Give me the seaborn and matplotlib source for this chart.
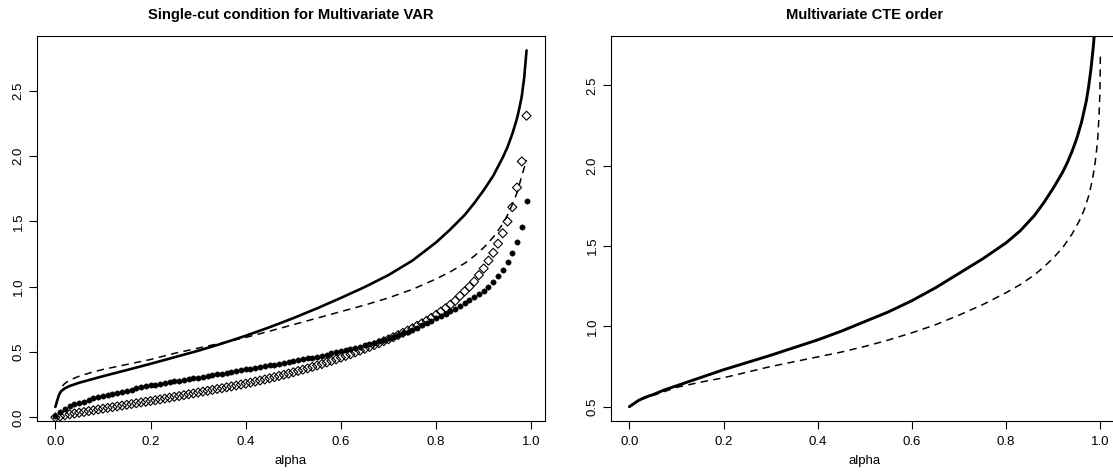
import numpy as np
import pandas as pd
import matplotlib
matplotlib.use("Agg")
import matplotlib.pyplot as plt
import seaborn as sns

# ---------------- data ----------------
alpha_pts = [round(i * 0.01, 2) for i in range(100)]

var_dots = [0.01, 0.04, 0.065, 0.085, 0.10, 0.11, 0.12, 0.13, 0.145, 0.155,
            0.163, 0.172, 0.18, 0.189, 0.197, 0.205, 0.213, 0.221, 0.229, 0.237,
            0.245, 0.251, 0.257, 0.263, 0.269, 0.275, 0.281, 0.287, 0.293, 0.299,
            0.305, 0.311, 0.317, 0.323, 0.329, 0.335, 0.341, 0.347, 0.354, 0.360,
            0.367, 0.373, 0.379, 0.385, 0.391, 0.398, 0.404, 0.411, 0.417, 0.424,
            0.430, 0.437, 0.444, 0.451, 0.458, 0.466, 0.473, 0.481, 0.489, 0.497,
            0.505, 0.514, 0.523, 0.532, 0.541, 0.551, 0.561, 0.571, 0.582, 0.593,
            0.605, 0.617, 0.630, 0.643, 0.657, 0.672, 0.688, 0.704, 0.721, 0.739,
            0.758, 0.775, 0.793, 0.812, 0.833, 0.855, 0.875, 0.897, 0.92, 0.944,
            0.97, 1.0, 1.04, 1.08, 1.13, 1.19, 1.26, 1.34, 1.46, 1.66]

var_diamonds = [0.0, 0.008, 0.016, 0.023, 0.029, 0.035, 0.041, 0.048, 0.054, 0.060,
                0.066, 0.072, 0.078, 0.084, 0.090, 0.096, 0.102, 0.108, 0.114, 0.119,
                0.125, 0.131, 0.137, 0.144, 0.150, 0.157, 0.163, 0.170, 0.177, 0.183,
                0.190, 0.197, 0.203, 0.210, 0.217, 0.223, 0.230, 0.237, 0.244, 0.251,
                0.258, 0.266, 0.274, 0.282, 0.290, 0.299, 0.308, 0.317, 0.326, 0.335,
                0.345, 0.355, 0.365, 0.375, 0.386, 0.397, 0.408, 0.420, 0.432, 0.444,
                0.457, 0.470, 0.483, 0.497, 0.511, 0.525, 0.539, 0.553, 0.568, 0.583,
                0.598, 0.614, 0.630, 0.647, 0.664, 0.682, 0.701, 0.72, 0.74, 0.762,
                0.785, 0.81, 0.836, 0.863, 0.892, 0.93, 0.965, 1.0, 1.04, 1.09,
                1.14, 1.20, 1.26, 1.33, 1.41, 1.50, 1.61, 1.76, 1.96, 2.31]

var_solid_x = [0.0, 0.004, 0.008, 0.012, 0.02, 0.03, 0.05, 0.075, 0.1, 0.15, 0.2, 0.25,
               0.3, 0.35, 0.4, 0.45, 0.5, 0.55, 0.6, 0.65, 0.7, 0.75, 0.8, 0.83,
               0.86, 0.88, 0.9, 0.92, 0.94, 0.95, 0.96, 0.97, 0.975, 0.98, 0.985, 0.99]
var_solid_y = [0.08, 0.13, 0.175, 0.2, 0.222, 0.24, 0.265, 0.29, 0.315, 0.362, 0.41, 0.46,
               0.51, 0.565, 0.625, 0.69, 0.76, 0.835, 0.915, 0.998, 1.09, 1.2, 1.34, 1.44,
               1.55, 1.64, 1.74, 1.85, 1.99, 2.07, 2.17, 2.29, 2.37, 2.46, 2.6, 2.81]

var_dash_x = [0.015, 0.02, 0.03, 0.05, 0.075, 0.1, 0.15, 0.2, 0.25, 0.3, 0.35, 0.4,
              0.45, 0.5, 0.55, 0.6, 0.65, 0.7, 0.75, 0.8, 0.83, 0.86, 0.88, 0.9,
              0.92, 0.94, 0.95, 0.96, 0.97, 0.98, 0.99]
var_dash_y = [0.24, 0.26, 0.285, 0.315, 0.343, 0.367, 0.405, 0.443, 0.49, 0.53, 0.57, 0.612,
              0.66, 0.71, 0.76, 0.81, 0.86, 0.915, 0.98, 1.06, 1.115, 1.18, 1.235, 1.3,
              1.38, 1.48, 1.55, 1.63, 1.72, 1.85, 1.97]

cte_solid_x = [0.0, 0.01, 0.02, 0.035, 0.05, 0.075, 0.1, 0.15, 0.2, 0.25, 0.3, 0.35,
               0.4, 0.45, 0.5, 0.55, 0.6, 0.65, 0.7, 0.75, 0.8, 0.83, 0.86, 0.88,
               0.9, 0.92, 0.93, 0.94, 0.95, 0.96, 0.97, 0.975, 0.98, 0.985, 0.99]
cte_solid_y = [0.5, 0.52, 0.54, 0.56, 0.575, 0.605, 0.63, 0.68, 0.73, 0.775, 0.82, 0.868,
               0.916, 0.97, 1.03, 1.09, 1.16, 1.24, 1.33, 1.42, 1.52, 1.595, 1.69, 1.77,
               1.86, 1.96, 2.02, 2.09, 2.17, 2.27, 2.40, 2.49, 2.6, 2.74, 2.92]

cte_dash_x = [0.0, 0.02, 0.05, 0.1, 0.15, 0.2, 0.25, 0.3, 0.35, 0.4, 0.45, 0.5,
              0.55, 0.6, 0.65, 0.7, 0.75, 0.8, 0.83, 0.86, 0.88, 0.9, 0.92, 0.94,
              0.955, 0.965, 0.975, 0.983, 0.989, 0.994, 0.997, 0.999, 1.0]
cte_dash_y = [0.5, 0.54, 0.57, 0.62, 0.652, 0.68, 0.715, 0.75, 0.78, 0.81, 0.84, 0.875,
              0.915, 0.96, 1.01, 1.07, 1.135, 1.21, 1.26, 1.32, 1.37, 1.425, 1.49, 1.575,
              1.655, 1.72, 1.81, 1.91, 2.02, 2.15, 2.3, 2.45, 2.68]

x_ticks = [0.0, 0.2, 0.4, 0.6, 0.8, 1.0]
left_yticks = [0.0, 0.5, 1.0, 1.5, 2.0, 2.5]
right_yticks = [0.5, 1.0, 1.5, 2.0, 2.5]

title_left = "Single-cut condition for Multivariate VAR"
title_right = "Multivariate CTE order"
xlab = "alpha"

# ---------------- style ----------------
sns.set_theme(style="white")
plt.rcParams["font.family"] = ["Liberation Sans", "DejaVu Sans"]
plt.rcParams["axes.edgecolor"] = "black"
plt.rcParams["axes.linewidth"] = 0.8

W, H = 1113, 472
fig = plt.figure(figsize=(W / 100, H / 100), dpi=100)
fig.patch.set_facecolor("white")

ax_bottom_px, ax_top_px = 421.0, 35.7
ax1 = fig.add_axes([36.5 / W, (H - ax_bottom_px) / H, 508.9 / W, (ax_bottom_px - ax_top_px) / H])
ax2 = fig.add_axes([610.5 / W, (H - ax_bottom_px) / H, 508.7 / W, (ax_bottom_px - ax_top_px) / H])

SOLID_LW = 1.9
DASH_LW = 1.1
DASH = (0, (4.8, 3.5))

# left panel
sns.lineplot(x=var_solid_x, y=var_solid_y, ax=ax1, color="black", linewidth=SOLID_LW,
             sort=False, estimator=None)
sns.lineplot(x=var_dash_x, y=var_dash_y, ax=ax1, color="black", linewidth=DASH_LW,
             linestyle=DASH, sort=False, estimator=None)
sns.scatterplot(x=alpha_pts, y=var_dots, ax=ax1, color="black", marker="o", s=15,
                linewidth=0.3, edgecolor="black")
sns.scatterplot(x=alpha_pts, y=var_diamonds, ax=ax1, marker="D", s=21,
                facecolors="none", edgecolors="black", linewidth=0.8)

ax1.set_xlim(-0.0396, 1.0296)
ax1.set_ylim(-0.028, 2.923)
ax1.set_yticks(left_yticks)

# right panel
sns.lineplot(x=cte_solid_x, y=cte_solid_y, ax=ax2, color="black", linewidth=SOLID_LW + 0.2,
             sort=False, estimator=None)
sns.lineplot(x=cte_dash_x, y=cte_dash_y, ax=ax2, color="black", linewidth=DASH_LW,
             linestyle=DASH, sort=False, estimator=None)
ax2.set_xlim(-0.04, 1.04)
ax2.set_ylim(0.411, 2.809)
ax2.set_yticks(right_yticks)

for ax, ttl in ((ax1, title_left), (ax2, title_right)):
    ax.set_xticks(x_ticks)
    ax.set_xticklabels([f"{v:.1f}" for v in x_ticks])
    ax.set_yticklabels([f"{v:.1f}" for v in ax.get_yticks()])
    for s in ax.spines.values():
        s.set_visible(True)
        s.set_color("black")
        s.set_linewidth(0.8)
    ax.tick_params(axis="both", which="major", direction="out", length=5.5, width=0.8,
                   color="black", labelsize=9.5, labelcolor="black",
                   bottom=True, left=True, top=False, right=False)
    ax.tick_params(axis="x", pad=5.5)
    ax.tick_params(axis="y", pad=3)
    for lab in ax.get_yticklabels():
        lab.set_rotation(90)
        lab.set_va("center")
    ax.set_title(ttl, fontsize=10.6, fontweight="bold", pad=12, color="black")
    ax.set_xlabel(xlab, fontsize=9.5, color="black")
    ax.xaxis.set_label_coords(0.5, -0.088)
    ax.xaxis.label.set_va("top")
    ax.set_ylabel("")
    ax.grid(False)
    ax.set_facecolor("white")

fig.savefig("out.png", dpi=100, facecolor="white")
